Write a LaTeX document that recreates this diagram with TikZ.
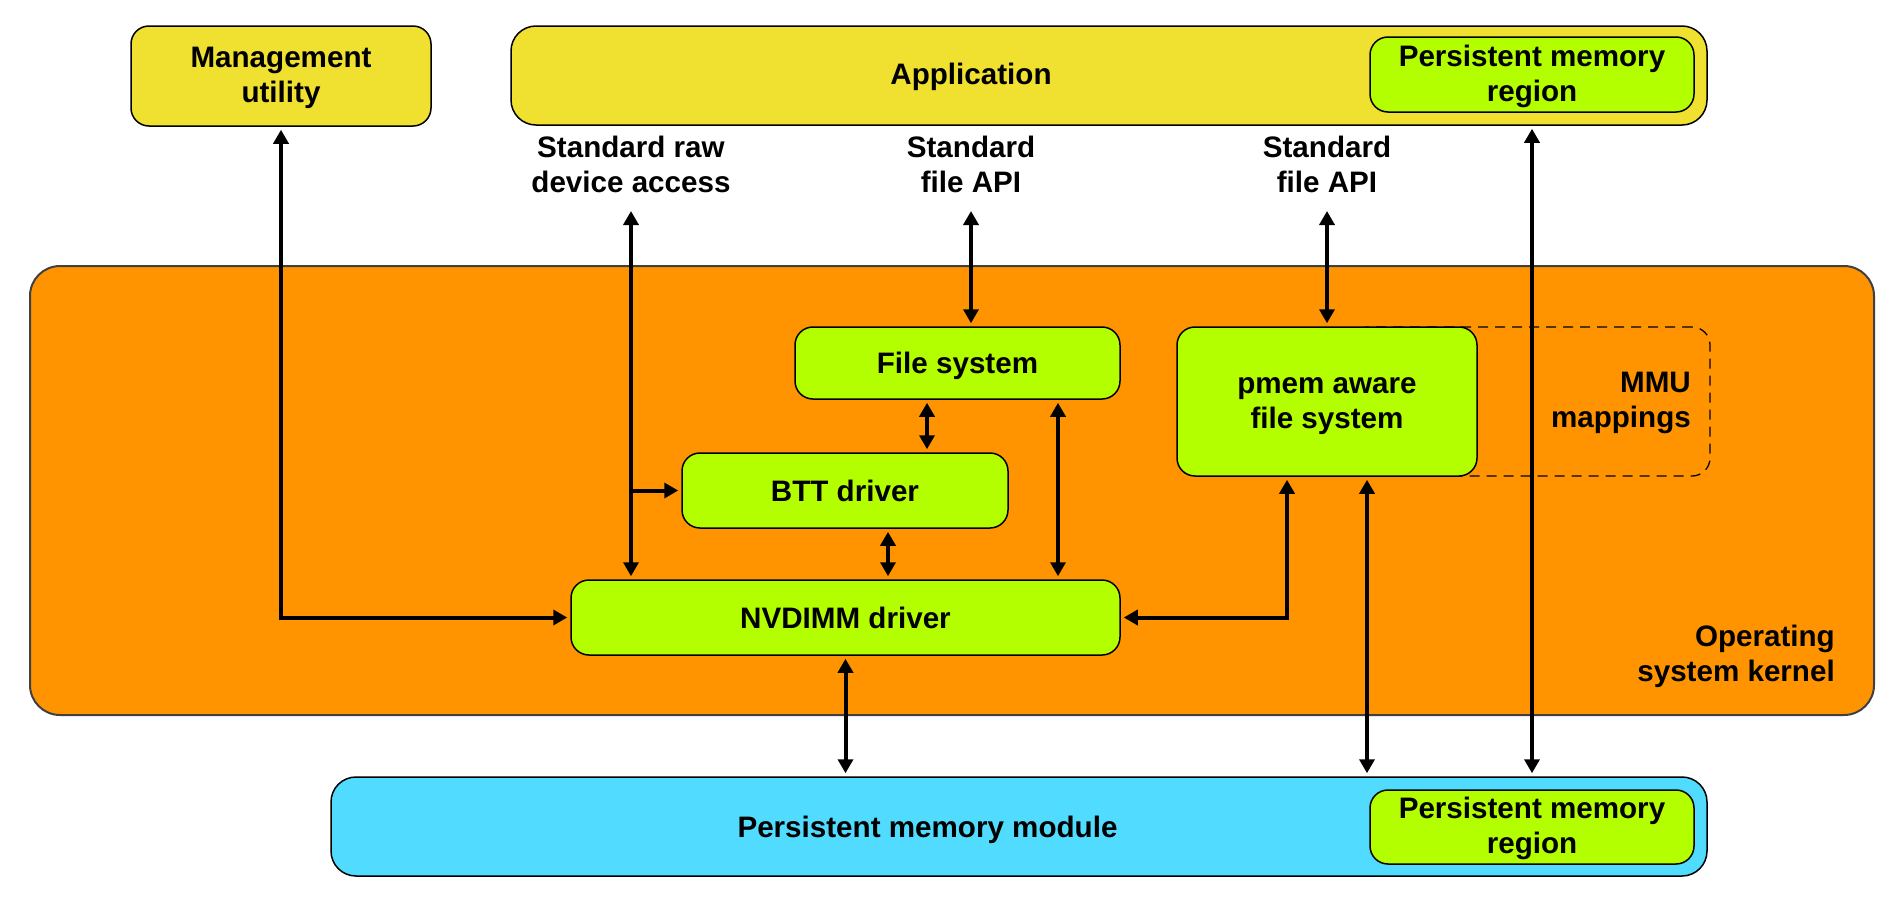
\documentclass[tikz,border=0pt]{standalone}
\usepackage{fontspec}
\setmainfont{Liberation Sans}
\usetikzlibrary{arrows.meta,calc}
\definecolor{appyellow}{HTML}{F0E030}
\definecolor{osorange}{HTML}{FF9400}
\definecolor{limegreen}{HTML}{B3FF00}
\definecolor{pmmcyan}{HTML}{50DBFF}
\definecolor{osborder}{HTML}{404040}
\newcommand{\lblfont}{\fontsize{29.6}{35}\selectfont\bfseries}
\newcommand{\pmrfont}{\fontsize{29.6}{30}\selectfont\bfseries}
\newcommand{\ls}{\rule[-6pt]{0pt}{34pt}}
\newcommand{\lt}{\rule[-8pt]{0pt}{34pt}}
\begin{document}
\begin{tikzpicture}[x=1pt,y=-1pt,
  box/.style={draw=black, line width=1.5pt, rounded corners=18pt, inner sep=0pt, align=center, font=\lblfont},
  ybox/.style={box, fill=appyellow},
  gbox/.style={box, fill=limegreen},
  txt/.style={inner sep=0pt, align=center, font=\lblfont},
  arr/.style={line width=4pt, {Triangle[length=14pt,width=15pt]}-{Triangle[length=14pt,width=15pt]}, shorten >=3pt, shorten <=3pt},
  arrone/.style={line width=4pt, -{Triangle[length=14pt,width=15pt]}, shorten >=3pt}
]
\useasboundingbox (0,0) rectangle (1904,900);
\fill[white] (0,0) rectangle (1904,900);

% Operating system kernel
\node[draw=osborder, line width=2pt, fill=osorange, rounded corners=30pt, minimum width=1844pt, minimum height=449pt] (os) at (952,490.5) {};
\node[txt, align=right, anchor=east] (ostxt) at (1835,653) {\ls Operating\\\ls system kernel};

% top boxes
\node[ybox, minimum width=300pt, minimum height=100pt] (mgmt) at (281,76) {\lt Management\\\lt utility};
\node[ybox, rounded corners=25pt, minimum width=1196pt, minimum height=99pt] (app) at (1109,75.5) {};
\node[txt] (apptxt) at (971,74) {\ls Application};
\node[gbox, font=\pmrfont, minimum width=324pt, minimum height=75pt] (appPMR) at (1532,74.5) {\lt Persistent memory\\\lt region};

% labels
\node[txt] (raw) at (631,163.5) {\ls Standard raw\\\ls device access};
\node[txt] (api1) at (971,163.5) {\ls Standard\\\ls file API};
\node[txt] (api2) at (1327,163.5) {\ls Standard\\\ls file API};
\coordinate (rawT) at (631,208);
\coordinate (api1T) at (971,208);
\coordinate (api2T) at (1327,208);

% MMU mappings dashed region
\node[draw=black, line width=1.3pt, dash pattern=on 10pt off 7pt, rounded corners=18pt, minimum width=360pt, minimum height=149pt] (mmu) at (1530,401.5) {};
\node[txt, align=right, anchor=east] (mmutxt) at (1691,399.5) {\ls MMU\\\ls mappings};

% kernel boxes
\node[gbox, minimum width=325pt, minimum height=72pt] (fs) at (957.5,363) {\ls File system};
\node[gbox, minimum width=326pt, minimum height=75pt] (btt) at (845,490.5) {\ls BTT driver};
\node[gbox, minimum width=549pt, minimum height=75pt] (nv) at (845.5,617.5) {\ls NVDIMM driver};
\node[gbox, minimum width=300pt, minimum height=149pt] (pmem) at (1327,401.5) {\lt pmem aware\\\lt file system};

% persistent memory module
\node[box, fill=pmmcyan, rounded corners=25pt, minimum width=1376pt, minimum height=99pt] (pmm) at (1019,826.5) {};
\node[txt] (pmmtxt) at (927.5,827) {\ls Persistent memory module};
\node[gbox, font=\pmrfont, minimum width=324pt, minimum height=74pt] (pmmPMR) at (1532,827) {\lt Persistent memory\\\lt region};

% helper coordinates for arrow columns
\coordinate (c927) at (927,0);
\coordinate (c888) at (888,0);
\coordinate (c1058) at (1058,0);
\coordinate (c1287) at (1287,0);
\coordinate (c1367) at (1367,0);
\coordinate (c845) at (845.5,0);

% connectors
\draw[arr] (mgmt.south) |- (nv.west);
\draw[arr] (rawT) -- (rawT |- nv.north);
\draw[arrone] (rawT |- btt.west) -- (btt.west);
\draw[arr] (api1T) -- (api1T |- fs.north);
\draw[arr] (api2T) -- (api2T |- pmem.north);
\draw[arr] (c927 |- fs.south) -- (c927 |- btt.north);
\draw[arr] (c888 |- btt.south) -- (c888 |- nv.north);
\draw[arr] (c1058 |- fs.south) -- (c1058 |- nv.north);
\draw[arr] (c1287 |- pmem.south) |- (nv.east);
\draw[arr] (c1367 |- pmem.south) -- (c1367 |- pmm.north);
\draw[arr] (appPMR.south |- app.south) -- (appPMR.south |- pmm.north);
\draw[arr] (c845 |- nv.south) -- (c845 |- pmm.north);
\end{tikzpicture}
\end{document}
